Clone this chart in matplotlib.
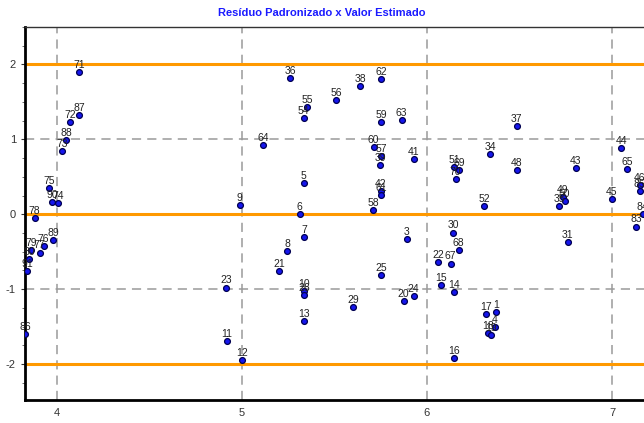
import matplotlib
matplotlib.use("Agg")
import matplotlib.pyplot as plt
from matplotlib.ticker import MultipleLocator

plt.rcParams["axes.unicode_minus"] = False

# observation labels, estimated value (x), standardized residual (y)
labels = ["71", "87", "72", "88", "73", "75", "90", "74", "78", "89",
          "76", "77", "79", "80", "91", "86",
          "36", "62", "38", "56", "55", "54", "59", "63", "64", "60",
          "57", "39", "41", "5", "42", "61", "9", "6", "58", "7", "3",
          "8", "21", "25", "23", "10", "26", "24", "20", "29", "13", "11", "12",
          "37", "44", "34", "51", "69", "70", "48", "43", "65", "46", "85",
          "45", "49", "50", "35", "52", "84", "83",
          "30", "31", "68", "22", "67", "15", "14", "17", "1", "4", "18", "19", "16"]
x_est = [4.119, 4.119, 4.072, 4.050, 4.029, 3.958, 3.973, 4.007, 3.879, 3.980,
         3.928, 3.906, 3.861, 3.850, 3.838, 3.829,
         5.261, 5.751, 5.640, 5.510, 5.353, 5.334, 5.751, 5.863, 5.114, 5.712,
         5.751, 5.748, 5.928, 5.334, 5.751, 5.751, 4.988, 5.312, 5.710, 5.337, 5.890,
         5.245, 5.202, 5.751, 4.914, 5.334, 5.334, 5.928, 5.874, 5.602, 5.337, 4.917, 5.002,
         6.485, 7.050, 6.342, 6.148, 6.175, 6.155, 6.485, 6.804, 7.081, 7.151, 7.150,
         7.000, 6.735, 6.744, 6.715, 6.310, 7.166, 7.131,
         6.142, 6.762, 6.171, 6.059, 6.128, 6.077, 6.148, 6.317, 6.375, 6.366, 6.328, 6.344, 6.148]
resid = [1.903, 1.324, 1.231, 0.996, 0.849, 0.356, 0.160, 0.147, -0.049, -0.342,
         -0.422, -0.511, -0.480, -0.604, -0.756, -1.604,
         1.817, 1.809, 1.716, 1.524, 1.431, 1.284, 1.231, 1.258, 0.929, 0.898,
         0.782, 0.662, 0.742, 0.422, 0.307, 0.253, 0.129, 0.004, 0.058, -0.307, -0.333,
         -0.489, -0.764, -0.813, -0.978, -1.022, -1.080, -1.093, -1.164, -1.244, -1.431, -1.698, -1.942,
         1.173, 0.880, 0.809, 0.631, 0.587, 0.476, 0.596, 0.622, 0.609, 0.387, 0.311,
         0.204, 0.231, 0.178, 0.111, 0.111, 0.000, -0.164,
         -0.244, -0.369, -0.476, -0.644, -0.658, -0.947, -1.036, -1.338, -1.311, -1.507, -1.591, -1.613, -1.916]
ref_lines = [-2, 0, 2]

fam = ["Liberation Sans", "DejaVu Sans"]
fig = plt.figure(figsize=(6.44, 4.23), dpi=100)
ax = fig.add_axes([25 / 644, 1 - 400 / 423, 1 - 25 / 644, (400 - 27) / 423])

ax.set_xlim(3.827, 7.173)
ax.set_ylim(-2.48, 2.5)

# grid
for gx in [4, 5, 6, 7]:
    ax.axvline(gx, color="#9a9a9a", lw=1.1, ls=(0, (6, 4)), zorder=1)
for gy in [-1, 1]:
    ax.axhline(gy, color="#9a9a9a", lw=1.1, ls=(0, (6, 4)), zorder=1)
# reference lines
for r in ref_lines:
    ax.axhline(r, color="#ff9900", lw=2.2, zorder=2)

ax.plot(x_est, resid, "o", ms=4.2, mfc="#1515ee", mec="#000050", mew=0.9, zorder=3)
for lab, xv, yv in zip(labels, x_est, resid):
    ax.annotate(lab, (xv, yv), xytext=(0, 1.5), textcoords="offset points",
                ha="center", va="bottom", fontsize=7.5, color="#222222",
                family=fam, zorder=4)

ax.set_xticks([4, 5, 6, 7])
ax.set_yticks([-2, -1, 0, 1, 2])
ax.yaxis.set_minor_locator(MultipleLocator(0.25))
ax.tick_params(axis="both", labelsize=8, colors="#333333", length=3, width=0.8)
ax.tick_params(axis="y", which="minor", length=2, width=0.6, color="#555555")
ax.tick_params(axis="x", length=0, pad=6)
for t in ax.get_xticklabels() + ax.get_yticklabels():
    t.set_family(fam)

ax.spines["left"].set_linewidth(2)
ax.spines["bottom"].set_linewidth(2)
ax.spines["top"].set_linewidth(1)
ax.spines["top"].set_color("#333333")
ax.spines["right"].set_visible(False)

fig.text(0.5, 1 - 13 / 423, "Resíduo Padronizado x Valor Estimado", ha="center", va="center",
         fontsize=8, fontweight="bold", color="#1a1aff",
         family=["Liberation Sans Narrow", "Liberation Sans", "DejaVu Sans"])

fig.savefig("out.png", dpi=100)
